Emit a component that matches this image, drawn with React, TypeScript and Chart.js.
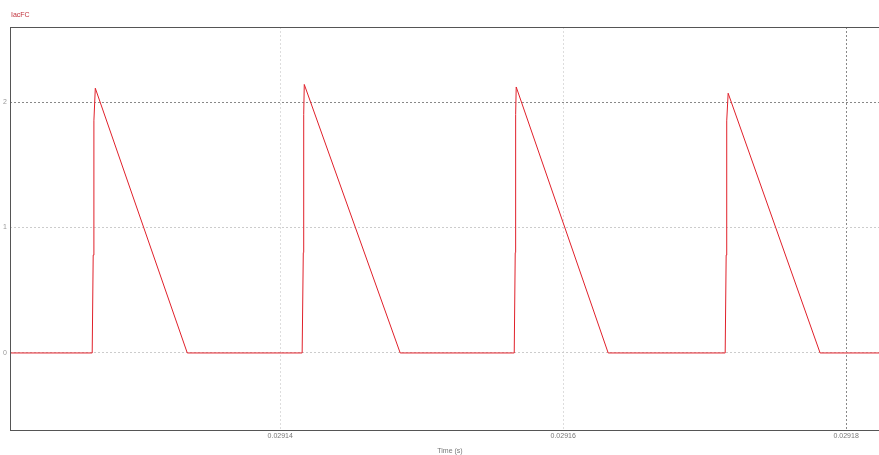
import React, { useEffect, useRef } from "react";
import { Chart, registerables } from "chart.js";

Chart.register(...registerables);

const seriesName = "IacFC";
const xTitle = "Time (s)";
const xTicks = [0.02914, 0.02916, 0.02918];
const yTicks = [0, 1, 2];
const xRange = [0.0291209, 0.0291831];
const yRange = [-0.614, 2.598];

const timeValues = [
  0.0291209,
  0.02912671, 0.02912678, 0.02912683, 0.02912693, 0.02913343,
  0.02914155, 0.02914163, 0.02914166, 0.0291417, 0.02914848,
  0.02915654, 0.02915661, 0.02915664, 0.02915668, 0.02916318,
  0.02917145, 0.02917152, 0.02917156, 0.02917166, 0.02917816,
  0.0291831,
];
const currentValues = [
  0,
  0, 0.78, 1.85, 2.11, 0,
  0, 0.8, 1.9, 2.14, 0,
  0, 0.8, 1.9, 2.12, 0,
  0, 0.78, 1.85, 2.07, 0,
  0,
];

const framePlugin = {
  id: "frame",
  afterDraw(chart: any) {
    const { ctx, chartArea } = chart;
    ctx.save();
    ctx.strokeStyle = "#555555";
    ctx.lineWidth = 1;
    ctx.strokeRect(
      Math.round(chartArea.left) + 0.5,
      Math.round(chartArea.top) + 0.5,
      chartArea.right - chartArea.left,
      chartArea.bottom - chartArea.top
    );
    ctx.fillStyle = "#c0303a";
    ctx.font = "7px 'Liberation Sans', Arial, sans-serif";
    ctx.textBaseline = "middle";
    ctx.textAlign = "left";
    ctx.fillText(seriesName, chartArea.left + 1, 15);
    ctx.restore();
  },
};

export default function App() {
  const ref = useRef<HTMLCanvasElement | null>(null);

  useEffect(() => {
    document.body.style.margin = "0";
    if (!ref.current) return;
    const points = timeValues.map((t, i) => ({ x: t, y: currentValues[i] }));
    const chart = new Chart(ref.current, {
      type: "line",
      data: {
        datasets: [
          {
            label: seriesName,
            data: points,
            borderColor: "#e0202a",
            borderWidth: 1,
            pointRadius: 0,
            tension: 0,
            fill: false,
          },
        ],
      },
      options: {
        animation: false,
        responsive: false,
        maintainAspectRatio: false,
        layout: { padding: { top: 27, left: 0, right: 0, bottom: 0 } },
        plugins: {
          legend: { display: false },
          tooltip: { enabled: false },
          title: { display: false },
        },
        scales: {
          x: {
            type: "linear",
            min: xRange[0],
            max: xRange[1],
            afterBuildTicks: (scale: any) => {
              scale.ticks = xTicks.map((v) => ({ value: v }));
            },
            afterFit: (scale: any) => {
              scale.height = 25;
            },
            ticks: {
              color: "#777777",
              font: { size: 7, family: "'Liberation Sans', Arial, sans-serif" },
              padding: 2,
              maxRotation: 0,
              autoSkip: false,
              callback: (v: any) => Number(v).toFixed(5),
            },
            grid: {
              color: (c: any) =>
                c.tick && Math.abs(c.tick.value - 0.02918) < 1e-9 ? "#888888" : "#dddddd",
              drawTicks: false,
            },
            border: { display: false, dash: [2, 2] },
            title: {
              display: true,
              text: xTitle,
              color: "#777777",
              font: { size: 7, family: "'Liberation Sans', Arial, sans-serif" },
              padding: 0,
            },
          },
          y: {
            type: "linear",
            min: yRange[0],
            max: yRange[1],
            afterBuildTicks: (scale: any) => {
              scale.ticks = yTicks.map((v) => ({ value: v }));
            },
            afterFit: (scale: any) => {
              scale.width = 40;
            },
            ticks: {
              color: "#999999",
              font: { size: 7, family: "'Liberation Sans', Arial, sans-serif" },
              padding: 3,
            },
            grid: {
              color: (c: any) => (c.tick && c.tick.value === 2 ? "#888888" : "#cccccc"),
              drawTicks: false,
            },
            border: { display: false, dash: [2, 2] },
          },
        },
      },
      plugins: [framePlugin],
    });
    return () => chart.destroy();
  }, []);

  return (
    <div style={{ position: "relative", width: 879, height: 455, overflow: "hidden" }}>
      <div style={{ position: "absolute", left: -30, top: 0, width: 920, height: 455 }}>
        <canvas ref={ref} width={920} height={455} style={{ width: 920, height: 455 }} />
      </div>
    </div>
  );
}
